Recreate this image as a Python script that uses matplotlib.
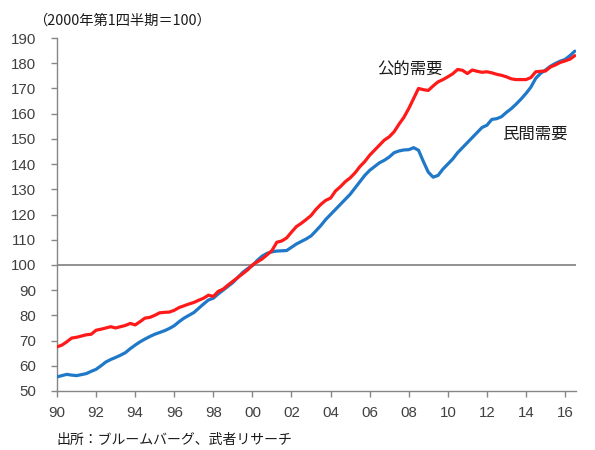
import matplotlib
matplotlib.use("Agg")
import matplotlib.pyplot as plt
import numpy as np

# Quarterly index values, 2000Q1 = 100
years = list(range(1990, 2017))
public_demand = [
    67.5, 68.2, 69.5, 71.0,   # 1990
    71.3, 71.8, 72.3, 72.5,   # 1991
    74.1, 74.5, 75.0, 75.5,   # 1992
    75.0, 75.5, 76.0, 76.8,   # 1993
    76.2, 77.5, 78.9, 79.2,   # 1994
    80.0, 81.0, 81.2, 81.3,   # 1995
    82.0, 83.1, 83.8, 84.5,   # 1996
    85.1, 86.0, 86.8, 88.0,   # 1997
    87.5, 89.5, 90.4, 92.0,   # 1998
    93.5, 95.0, 96.5, 98.0,   # 1999
    100.0, 101.2, 102.4, 104.0,  # 2000
    105.7, 109.0, 109.5, 110.7,  # 2001
    113.0, 115.2, 116.5, 118.0,  # 2002
    119.6, 122.0, 124.0, 125.6,  # 2003
    126.5, 129.3, 131.0, 133.0,  # 2004
    134.5, 136.5, 139.0, 141.0,  # 2005
    143.5, 145.5, 147.5, 149.5,  # 2006
    150.8, 152.8, 155.8, 158.5,  # 2007
    162.0, 166.0, 170.0, 169.5,  # 2008
    169.2, 171.0, 172.6, 173.5,  # 2009
    174.6, 175.8, 177.5, 177.2,  # 2010
    175.9, 177.3, 176.8, 176.4,  # 2011
    176.6, 176.2, 175.6, 175.2,  # 2012
    174.6, 173.8, 173.5, 173.5,  # 2013
    173.5, 174.3, 176.6, 176.8,  # 2014
    176.9, 178.5, 179.3, 180.3,  # 2015
    180.9, 181.6, 183.0,         # 2016
]
private_demand = [
    55.6, 56.1, 56.6, 56.3,   # 1990
    56.1, 56.5, 56.9, 57.8,   # 1991
    58.6, 60.0, 61.5, 62.5,   # 1992
    63.3, 64.2, 65.2, 66.8,   # 1993
    68.2, 69.5, 70.6, 71.6,   # 1994
    72.5, 73.2, 73.9, 74.8,   # 1995
    75.9, 77.5, 78.9, 80.0,   # 1996
    81.1, 82.8, 84.5, 86.1,   # 1997
    86.8, 88.5, 90.0, 91.5,   # 1998
    93.0, 95.0, 97.0, 98.5,   # 1999
    99.7, 101.8, 103.5, 104.6,   # 2000
    105.2, 105.5, 105.6, 105.7,  # 2001
    107.0, 108.3, 109.3, 110.3,  # 2002
    111.5, 113.5, 115.6, 118.0,  # 2003
    120.0, 122.0, 124.0, 126.0,  # 2004
    128.0, 130.5, 133.0, 135.5,  # 2005
    137.5, 139.0, 140.5, 141.5,  # 2006
    142.8, 144.5, 145.2, 145.6,  # 2007
    145.7, 146.5, 145.5, 141.0,  # 2008
    136.8, 134.8, 135.5, 138.0,  # 2009
    140.0, 142.0, 144.5, 146.5,  # 2010
    148.5, 150.5, 152.5, 154.5,  # 2011
    155.4, 157.7, 158.0, 158.8,  # 2012
    160.5, 162.0, 163.8, 165.8,  # 2013
    168.0, 170.5, 174.0, 176.0,  # 2014
    177.3, 178.8, 179.9, 180.8,  # 2015
    181.5, 183.0, 184.8,         # 2016
]
x_tick_years = list(range(1990, 2017, 2))
x_tick_labels = [f"{y % 100:02d}" for y in x_tick_years]
y_ticks = list(range(50, 191, 10))

title_text = "（2000年第1四半期＝100）"
source_text = "出所：ブルームバーグ、武者リサーチ"
label_public = "公的需要"
label_private = "民間需要"

plt.rcParams['font.family'] = ['Liberation Sans', 'Noto Sans CJK JP', 'DejaVu Sans']
cjk = ['Noto Sans CJK JP', 'DejaVu Sans']

t = 1990 + np.arange(len(public_demand)) * 0.25

W, H = 595, 450
fig = plt.figure(figsize=(W / 100, H / 100), dpi=100)
ax = fig.add_axes([57 / W, 1 - 391 / H, (576 - 57) / W, (391 - 38) / H])

ax.axhline(100, color='#7f7f7f', lw=1.2, zorder=1)
ax.plot(t, private_demand, color='#1f78c8', lw=2.3, zorder=3, solid_capstyle='round')
ax.plot(t, public_demand, color='#ff1a1a', lw=2.3, zorder=4, solid_capstyle='round')

ax.set_xlim(1990, 2016.56)
ax.set_ylim(50, 190)
ax.set_xticks(x_tick_years)
ax.set_xticklabels(x_tick_labels)
ax.set_yticks(y_ticks)

for s in ['top', 'right']:
    ax.spines[s].set_visible(False)
for s in ['left', 'bottom']:
    ax.spines[s].set_color('#868686')
    ax.spines[s].set_linewidth(1.0)
ax.tick_params(axis='both', colors='#868686', labelcolor='#404040', labelsize=10.8,
               length=4, width=1.0, direction='out')
ax.tick_params(axis='y', pad=11)
ax.tick_params(axis='x', pad=7)

def px(x, y):
    return x / W, 1 - y / H

fig.text(*px(409.5, 69.5), label_public, fontsize=11.8, family=cjk,
         ha='center', va='center', color='#1a1a1a')
fig.text(*px(534.5, 134.5), label_private, fontsize=11.8, family=cjk,
         ha='center', va='center', color='#1a1a1a')
fig.text(*px(33, 21), title_text, fontsize=10.3, family=cjk,
         ha='left', va='center', color='#1a1a1a')
fig.text(*px(56, 440), source_text, fontsize=10, family=cjk,
         ha='left', va='center', color='#1a1a1a')

fig.savefig('out.png', dpi=100)
